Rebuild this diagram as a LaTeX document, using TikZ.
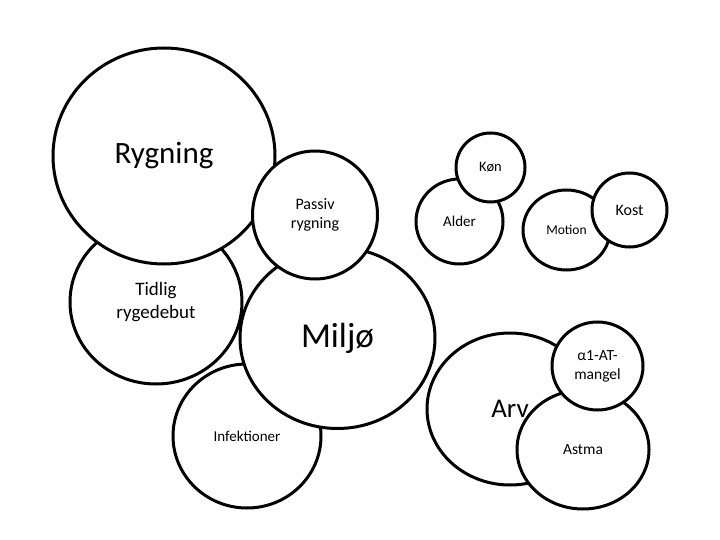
\documentclass[tikz,border=0pt]{standalone}
\usepackage{fontspec}
\setmainfont{Carlito}
\usetikzlibrary{shapes.geometric}
\tikzset{
  bubble/.style={ellipse, draw=black, fill=white, line width=3pt, inner sep=0pt, align=center, text=black},
  fs/.style={font=\fontsize{#1pt}{1.22\dimexpr #1pt\relax}\selectfont}
}
\begin{document}
\begin{tikzpicture}[x=1pt,y=-1pt]
\useasboundingbox (0,0) rectangle (720,540);
\fill[white] (0,0) rectangle (720,540);
% left group
\node[bubble, minimum width=172pt, minimum height=164pt, fs=19] (tidlig) at (156,302) {Tidlig\\rygedebut};
\node[bubble, minimum width=222pt, minimum height=216pt, fs=31] (rygning) at (164,156) {Rygning};
\node[bubble, minimum width=148pt, minimum height=144pt, fs=15] (infek) at (247,436) {Infektioner};
\node[bubble, minimum width=195pt, minimum height=181pt, fs=35] (miljo) at (337.5,338) {Miljø};
\node[bubble, minimum width=125pt, minimum height=128pt, fs=16] (passiv) at (315,215) {Passiv\\rygning};
% top middle
\node[bubble, minimum width=87pt, minimum height=85pt, fs=15] (alder) at (459.5,221.5) {Alder};
\node[bubble, minimum width=69pt, minimum height=69pt, fs=14.5] (kon) at (490.5,167.5) {Køn};
% top right
\node[bubble, minimum width=87pt, minimum height=80pt, fs=13.5] (motion) at (566.5,230) {Motion};
\node[bubble, minimum width=75pt, minimum height=74pt, fs=16] (kost) at (629.5,210) {Kost};
% bottom right
\node[bubble, minimum width=166pt, minimum height=152pt, fs=27] (arv) at (510,409) {Arv};
\node[bubble, minimum width=132pt, minimum height=119pt, fs=15.5] (astma) at (583,449.5) {Astma};
\node[bubble, minimum width=91pt, minimum height=88pt, fs=15.5] (alfa) at (597.5,366) {α1-AT-\\mangel};
\end{tikzpicture}
\end{document}
